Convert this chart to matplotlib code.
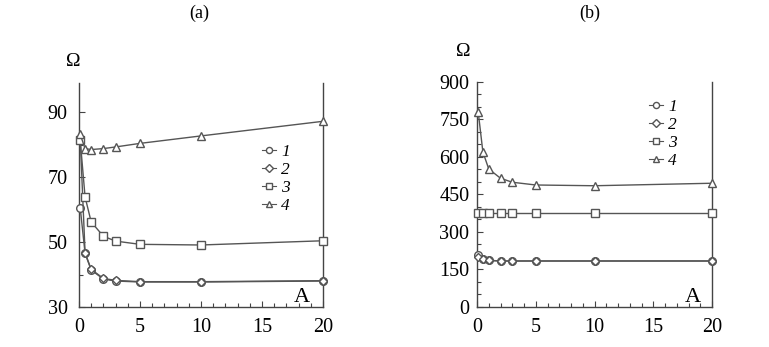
import matplotlib
matplotlib.use("Agg")
import matplotlib.pyplot as plt
from matplotlib.ticker import MultipleLocator

plt.rcParams['font.family'] = ['Liberation Serif', 'DejaVu Serif']

x = [0.1, 0.5, 1, 2, 3, 5, 10, 20]

# panel (a)
a1 = [60.6, 46.5, 41.4, 38.6, 38.0, 37.7, 37.7, 38.0]
a2 = [82.0, 46.7, 41.6, 38.8, 38.2, 37.8, 37.8, 38.1]
a3 = [81.4, 63.9, 56.2, 51.8, 50.3, 49.3, 49.1, 50.4]
a4 = [83.2, 78.8, 78.5, 78.8, 79.3, 80.4, 82.7, 87.2]

# panel (b)
b1 = [208, 192, 187, 184, 184, 184, 184, 184]
b2 = [200, 190, 186, 184, 184, 184, 184, 184]
b3 = [376, 376, 376, 376, 376, 376, 376, 376]
b4 = [781, 620, 552, 515, 499, 488, 485, 495]

labels = ['1', '2', '3', '4']
markers = ['o', 'D', 's', '^']
msizes = [5.5, 4.5, 5.5, 5.5]

a_yticks = [30, 50, 70, 90]
b_yticks = [0, 150, 300, 450, 600, 750, 900]
x_ticks = [0, 5, 10, 15, 20]

col = '#555555'

fig = plt.figure(figsize=(7.69, 3.47), dpi=100)
axa = fig.add_axes([0.1027, 0.1153, 0.3173, 0.6455])
axb = fig.add_axes([0.6203, 0.1153, 0.3056, 0.6484])


def style(ax, ylim, yticks, ymin_step, ypad):
    ax.set_xlim(0, 20)
    ax.set_ylim(*ylim)
    ax.spines['top'].set_visible(False)
    for s in ['left', 'right', 'bottom']:
        ax.spines[s].set_color('#444444')
        ax.spines[s].set_linewidth(1.0)
    ax.set_xticks(x_ticks)
    ax.set_yticks(yticks)
    ax.xaxis.set_minor_locator(MultipleLocator(1))
    ax.yaxis.set_minor_locator(MultipleLocator(ymin_step))
    ax.tick_params(axis='both', which='both', direction='in', color='#444444',
                   right=False, top=False)
    ax.tick_params(axis='both', which='major', length=4, width=0.8,
                   labelsize=14.5)
    ax.tick_params(axis='x', which='major', pad=8)
    ax.tick_params(axis='y', which='major', pad=ypad)
    ax.tick_params(axis='both', which='minor', length=3, width=0.8)


for ax, ys, ylim, yt, ms, yp in [
        (axa, [a1, a2, a3, a4], (30, 99), a_yticks, 10, 8),
        (axb, [b1, b2, b3, b4], (0, 900), b_yticks, 50, 5.5)]:
    for yv, lab, mk, sz in zip(ys, labels, markers, msizes):
        ax.plot(x, yv, color=col, lw=1.0, marker=mk, markersize=sz,
                markerfacecolor='white', markeredgecolor=col,
                markeredgewidth=1.0, label=lab, clip_on=False, zorder=3)
    style(ax, ylim, yt, ms, yp)

fig.text(199 / 769, 1 - 13 / 347, '(a)', fontsize=13, ha='center', va='center')
fig.text(590 / 769, 1 - 13 / 347, '(b)', fontsize=13, ha='center', va='center')

fig.text(73 / 769, 1 - 62 / 347, 'Ω', fontsize=14, ha='center', va='center')
fig.text(463 / 769, 1 - 52 / 347, 'Ω', fontsize=14, ha='center', va='center')
fig.text(302 / 769, 1 - 297 / 347, 'A', fontsize=16, ha='center', va='center')
fig.text(693 / 769, 1 - 297 / 347, 'A', fontsize=16, ha='center', va='center')

leg_kw = dict(frameon=False, handlelength=0.8, handletextpad=0.3,
              labelspacing=0.1, borderpad=0, borderaxespad=0, markerscale=0.8,
              prop={'style': 'italic', 'size': 12.5})
la = axa.legend(loc='upper left',
                bbox_to_anchor=((262 - 79) / 244, (307 - 144) / 224), **leg_kw)
lb = axb.legend(loc='upper left',
                bbox_to_anchor=((649 - 477) / 235, (307 - 99) / 225), **leg_kw)
for lg in (la, lb):
    for line in lg.get_lines():
        line.set_linewidth(0.8)

fig.savefig('out.png', dpi=100)
